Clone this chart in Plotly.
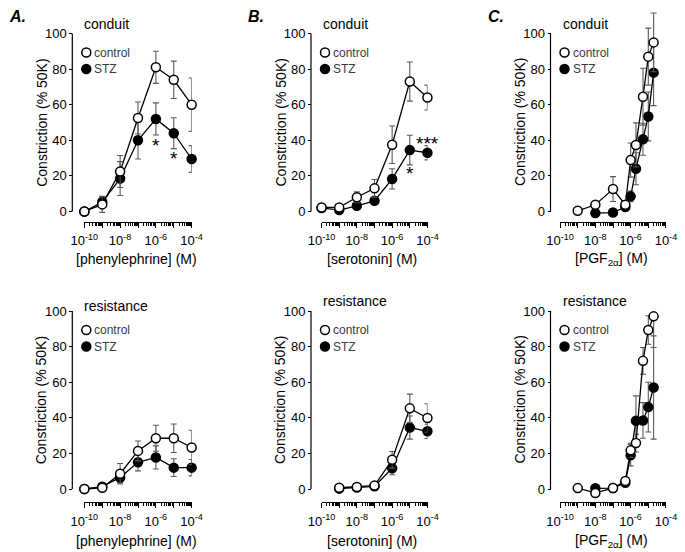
import math
import plotly.graph_objects as go

W, H = 685, 552
FONT = "Arial, Liberation Sans, sans-serif"

# ---------------- data ----------------
conc_dec = [1e-10, 1e-9, 1e-8, 1e-7, 1e-6, 1e-5, 1e-4]
conc_ser_res = [1e-9, 1e-8, 1e-7, 1e-6, 1e-5, 1e-4]
conc_pgf_ctrl = [1e-9, 1e-8, 1e-7, 5e-7, 1e-6, 2e-6, 5e-6, 1e-5, 2e-5]
conc_pgf_stz = [1e-8, 1e-7, 5e-7, 1e-6, 2e-6, 5e-6, 1e-5, 2e-5]

# A. phenylephrine
phe_con_ctrl = [0, 4, 22.5, 52.5, 81, 74, 60]
phe_con_ctrl_err = [0, 4.5, 9, 9, 9, 10.5, 15]
phe_con_stz = [0, 5.3, 18.5, 40, 52, 44, 29.5]
phe_con_stz_err = [0, 3, 9.5, 10.5, 9, 8.7, 7.5]
phe_res_ctrl = [0, 0.7, 8.6, 21.4, 28.5, 28.5, 23.3]
phe_res_ctrl_err = [0, 0.5, 5.7, 5.6, 7.3, 8, 9.7]
phe_res_stz = [0, 1.3, 6.5, 15, 17.7, 12, 12]
phe_res_stz_err = [0, 0.5, 2.8, 4.8, 6.5, 5, 4.6]

# B. serotonin
ser_con_ctrl = [2.3, 2.3, 8, 13, 37.5, 73, 64]
ser_con_ctrl_err = [0, 0, 3, 5, 10.5, 11, 7]
ser_con_stz = [2, 0.8, 3.2, 6, 18.3, 34.5, 33]
ser_con_stz_err = [0, 0.5, 1, 2, 5.7, 8.3, 4]
ser_res_ctrl = [0.7, 1.1, 1.9, 16.4, 45.3, 39.9]
ser_res_ctrl_err = [0.5, 0.5, 0.5, 4.7, 8, 8]
ser_res_stz = [0.2, 0.8, 1.5, 11.7, 34.5, 32.4]
ser_res_stz_err = [0.5, 0.5, 0.5, 3.7, 6.5, 4]

# C. PGF2a
pgf_con_ctrl = [0.4, 3.8, 12.6, 3.8, 28.9, 37.4, 64.5, 87, 95]
pgf_con_ctrl_err = [0, 1, 7, 1.5, 9.6, 12.4, 16, 16, 16.5]
pgf_con_stz = [-0.9, -0.6, 2.5, 8.5, 24, 40.6, 53.4, 78]
pgf_con_stz_err = [0.5, 0.5, 1, 3, 9, 9, 13.7, 18.5]
pgf_res_ctrl = [0.5, -2.2, 0.5, 4.5, 21.7, 25.8, 72, 89.3, 97]
pgf_res_ctrl_err = [0, 1, 1, 1.5, 4, 5, 7.5, 8, 17.5]
pgf_res_ctrl_err_up = [0, 1, 1, 1.5, 4, 5, 7.5, 8, 0]
pgf_res_stz = [0.4, 0.5, 3.5, 19, 38.3, 38.5, 46, 57]
pgf_res_stz_err = [0.5, 0.5, 1, 6, 14, 10, 14, 29]

y_ticks = [0, 20, 40, 60, 80, 100]
x_major = [1e-10, 1e-9, 1e-8, 1e-7, 1e-6, 1e-5, 1e-4]
x_major_text = ["10<sup>-10</sup>", "", "10<sup>-8</sup>", "", "10<sup>-6</sup>", "", "10<sup>-4</sup>"]
x_minor = [k * 10.0 ** e for e in range(-10, -4) for k in range(2, 10)]

panel_letters = ["A.", "B.", "C."]
row_titles = ["conduit", "resistance"]
x_titles = ["[phenylephrine] (M)", "[serotonin] (M)", "[PGF<sub>2\u03b1</sub>] (M)"]
y_title = "Constriction (% 50K)"
series_names = ["control", "STZ"]

panels = [
    # (col, row, ctrl_x, ctrl_y, ctrl_err_up, ctrl_err_down, stz_x, stz_y, stz_err)
    (0, 0, conc_dec, phe_con_ctrl, phe_con_ctrl_err, phe_con_ctrl_err,
     conc_dec, phe_con_stz, phe_con_stz_err),
    (1, 0, conc_dec, ser_con_ctrl, ser_con_ctrl_err, ser_con_ctrl_err,
     conc_dec, ser_con_stz, ser_con_stz_err),
    (2, 0, conc_pgf_ctrl, pgf_con_ctrl, pgf_con_ctrl_err, pgf_con_ctrl_err,
     conc_pgf_stz, pgf_con_stz, pgf_con_stz_err),
    (0, 1, conc_dec, phe_res_ctrl, phe_res_ctrl_err, phe_res_ctrl_err,
     conc_dec, phe_res_stz, phe_res_stz_err),
    (1, 1, conc_ser_res, ser_res_ctrl, ser_res_ctrl_err, ser_res_ctrl_err,
     conc_ser_res, ser_res_stz, ser_res_stz_err),
    (2, 1, conc_pgf_ctrl, pgf_res_ctrl, pgf_res_ctrl_err_up, pgf_res_ctrl_err,
     conc_pgf_stz, pgf_res_stz, pgf_res_stz_err),
]

# significance marks: (panel index, x concentration, y value, text)
sig_marks = [
    (0, 1e-6, 39.3, "*"),
    (0, 1e-5, 32.2, "*"),
    (1, 1e-5, 23.4, "*"),
    (1, 1e-4, 40.3, "***"),
]

# ---------------- layout geometry (pixels) ----------------
col_yaxis_px = [72.3, 311.0, 550.5]
col_x_px = [(84.3, 191.7), (321.5, 427.5), (560.0, 666.0)]
row_zero_px = [211.5, 489.0]
row_px_per_unit = 1.78
row_xaxis_px = [221.7, 502.0]
row_xtitle_gap = [37, 39]
Y_RANGE = [-13, 113]
X_RANGE = [-10.004, -3.996]


def px(v):
    return v / W


def py(v):
    return 1 - v / H


fig = go.Figure()
layout = dict(
    width=W, height=H, autosize=False,
    margin=dict(l=0, r=0, t=0, b=0, pad=0, autoexpand=False),
    paper_bgcolor="white", plot_bgcolor="rgba(0,0,0,0)",
    showlegend=False, font=dict(family=FONT, color="black"),
)
shapes, annotations = [], []

for i, (col, row, cx, cy, ceu, ced, sx, sy, se) in enumerate(panels):
    n = i + 1
    xa = "x" if n == 1 else f"x{n}"
    ya = "y" if n == 1 else f"y{n}"
    z = row_zero_px[row]
    top_px = z - Y_RANGE[1] * row_px_per_unit
    bot_px = z - Y_RANGE[0] * row_px_per_unit

    layout["xaxis" if n == 1 else f"xaxis{n}"] = dict(
        type="log", range=X_RANGE, domain=[px(col_x_px[col][0]), px(col_x_px[col][1])],
        anchor="free", position=py(row_xaxis_px[row]), automargin=False,
        showgrid=False, zeroline=False, showline=True, linecolor="black", linewidth=1.2,
        ticks="outside", ticklen=5, tickwidth=1, tickcolor="black", ticklabelstandoff=2,
        tickmode="array", tickvals=x_major, ticktext=x_major_text,
        tickfont=dict(size=13, family=FONT, color="black"),
        minor=dict(tickmode="array", tickvals=x_minor, ticks="outside", ticklen=3,
                   tickwidth=0.8, tickcolor="black", showgrid=False),
    )
    layout["yaxis" if n == 1 else f"yaxis{n}"] = dict(
        range=Y_RANGE, domain=[py(bot_px), py(top_px)],
        anchor="free", position=px(col_yaxis_px[col]), automargin=False,
        showgrid=False, zeroline=False, showline=False,
        ticks="outside", ticklen=3, tickwidth=1, tickcolor="black",
        tickmode="array", tickvals=y_ticks,
        tickfont=dict(size=13, family=FONT, color="black"),
    )
    # y axis line only from 0 to 100
    shapes.append(dict(type="line", xref="paper", yref=ya,
                       x0=px(col_yaxis_px[col]), x1=px(col_yaxis_px[col]), y0=0, y1=100,
                       line=dict(color="black", width=1.2)))

    err_style = dict(type="data", visible=True, color="#5a5a5a", thickness=1.1, width=3)
    fig.add_trace(go.Scatter(
        x=sx, y=sy, xaxis=xa, yaxis=ya, mode="lines+markers", cliponaxis=False,
        line=dict(color="black", width=1.3),
        marker=dict(symbol="circle", size=9, color="black", line=dict(color="black", width=1.5)),
        error_y=dict(array=se, **err_style), name=series_names[1]))
    fig.add_trace(go.Scatter(
        x=cx, y=cy, xaxis=xa, yaxis=ya, mode="lines+markers", cliponaxis=False,
        line=dict(color="black", width=1.3),
        marker=dict(symbol="circle", size=9, color="white", line=dict(color="black", width=1.5)),
        error_y=dict(array=ceu, arrayminus=ced, symmetric=False, **err_style),
        name=series_names[0]))

    # y-axis title (centred on the 0-100 span)
    annotations.append(dict(xref="paper", yref="paper", x=px(col_yaxis_px[col] - 31),
                            y=py(z - 50 * row_px_per_unit), text=y_title, textangle=-90,
                            showarrow=False, font=dict(size=14, family=FONT, color="black"),
                            xanchor="center", yanchor="middle"))
    # x-axis title
    annotations.append(dict(xref="paper", yref="paper",
                            x=px((col_x_px[col][0] + col_x_px[col][1]) / 2 - 2),
                            y=py(row_xaxis_px[row] + row_xtitle_gap[row]), text=x_titles[col],
                            showarrow=False, font=dict(size=14, family=FONT, color="black"),
                            xanchor="center", yanchor="middle"))
    # row title
    title_y = (z - 100 * row_px_per_unit) - (10 if row == 0 else 10 - (5 if col == 0 else 0))
    annotations.append(dict(xref="paper", yref="paper", x=px(col_yaxis_px[col] + 10),
                            y=py(title_y), text=row_titles[row], showarrow=False,
                            font=dict(size=14, family=FONT, color="black"),
                            xanchor="left", yanchor="middle"))
    # legend (symbol shapes + text)
    lx = col_yaxis_px[col] + 14
    for k, (nm, fillc) in enumerate(zip(series_names, ["white", "black"])):
        ly = (z - 100 * row_px_per_unit) + 19 + k * 16.5
        shapes.append(dict(type="circle", xref="paper", yref="paper",
                           xsizemode="pixel", ysizemode="pixel",
                           xanchor=px(lx), yanchor=py(ly), x0=-4.5, x1=4.5, y0=-4.5, y1=4.5,
                           fillcolor=fillc, line=dict(color="black", width=1.5)))
        annotations.append(dict(xref="paper", yref="paper", x=px(lx + 6), y=py(ly),
                                text=nm, showarrow=False, xanchor="left", yanchor="middle",
                                font=dict(size=12, family=FONT, color="#3a3a3a")))

# panel letters
for col, letter in enumerate(panel_letters):
    annotations.append(dict(xref="paper", yref="paper", x=px(col_yaxis_px[col] - 65),
                            y=py(16), text=f"<b><i>{letter}</i></b>", showarrow=False,
                            xanchor="left", yanchor="middle",
                            font=dict(size=16, family=FONT, color="black")))

# significance asterisks
for (pi, xv, yv, txt) in sig_marks:
    n = pi + 1
    annotations.append(dict(xref="x" if n == 1 else f"x{n}", yref="y" if n == 1 else f"y{n}",
                            x=math.log10(xv), y=yv, text=txt, showarrow=False, yshift=-4,
                            font=dict(size=19, family=FONT, color="black"),
                            xanchor="center", yanchor="middle"))

layout["shapes"] = shapes
layout["annotations"] = annotations
fig.update_layout(**layout)
fig.write_html("out.html", config={"displayModeBar": False},
               post_script="document.body.style.margin='0';document.body.style.padding='0';")
